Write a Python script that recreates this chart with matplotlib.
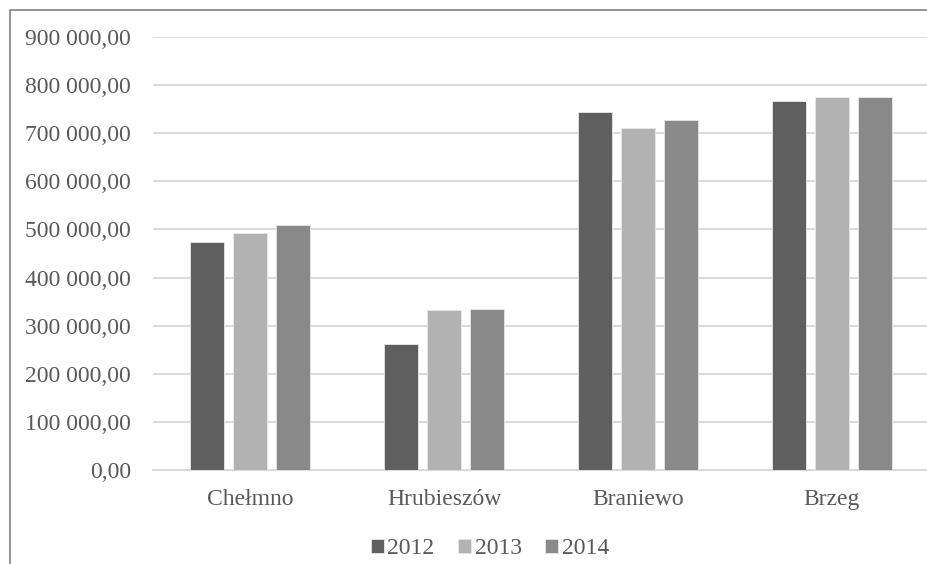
import matplotlib
matplotlib.use('Agg')
import matplotlib.pyplot as plt
from matplotlib.lines import Line2D
from matplotlib.ticker import FuncFormatter
import numpy as np

# data
towns = ['Chełmno', 'Hrubieszów', 'Braniewo', 'Brzeg']
years = ['2012', '2013', '2014']
v2012 = [473000, 262000, 745000, 766000]
v2013 = [493000, 333000, 710000, 775000]
v2014 = [509000, 335000, 728000, 775000]
colors = ['#5f5f5f', '#b2b2b2', '#898989']

plt.rcParams['font.family'] = ['Liberation Serif', 'DejaVu Serif']

fig = plt.figure(figsize=(9.27, 5.64), dpi=100)
ax = fig.add_axes([153 / 927, 1 - 470 / 564, 776 / 927, (470 - 37) / 564])

x = np.arange(len(towns))
w = 0.175
step = 0.222
for i, (vals, c, lab) in enumerate(zip([v2012, v2013, v2014], colors, years)):
    ax.bar(x + (i - 1) * step, vals, width=w, color=c, label=lab,
           edgecolor='#e8e8e8', linewidth=0.6, zorder=3)

ax.set_xlim(-0.5, len(towns) - 0.5)
ax.set_ylim(0, 900000)
ax.set_yticks(np.arange(0, 900001, 100000))
ax.yaxis.set_major_formatter(FuncFormatter(
    lambda v, p: '{:,.2f}'.format(v).replace(',', ' ').replace('.', ',')))
ax.set_xticks(x)
ax.set_xticklabels(towns)
ax.grid(axis='y', color='#d9d9d9', linewidth=1.4, zorder=0)
for s in ['top', 'right', 'left']:
    ax.spines[s].set_visible(False)
ax.spines['bottom'].set_color('#d9d9d9')
ax.spines['bottom'].set_linewidth(1.4)
ax.tick_params(axis='both', length=0, labelsize=17, labelcolor='#595959')
ax.tick_params(axis='y', pad=16)
ax.tick_params(axis='x', pad=14)

leg = fig.legend(loc='center', bbox_to_anchor=(490 / 927, 1 - 549 / 564), ncol=3,
                 frameon=False, fontsize=17, handlelength=0.55, handleheight=0.55,
                 handletextpad=0.15, columnspacing=1.0)
for t in leg.get_texts():
    t.set_color('#595959')

# outer frame, only left and top edges visible in the crop
fig.add_artist(Line2D([10 / 927, 10 / 927, 1], [0, 1 - 10 / 564, 1 - 10 / 564],
                      transform=fig.transFigure, color='#808080', linewidth=1.2))

fig.savefig('out.png', dpi=100)
